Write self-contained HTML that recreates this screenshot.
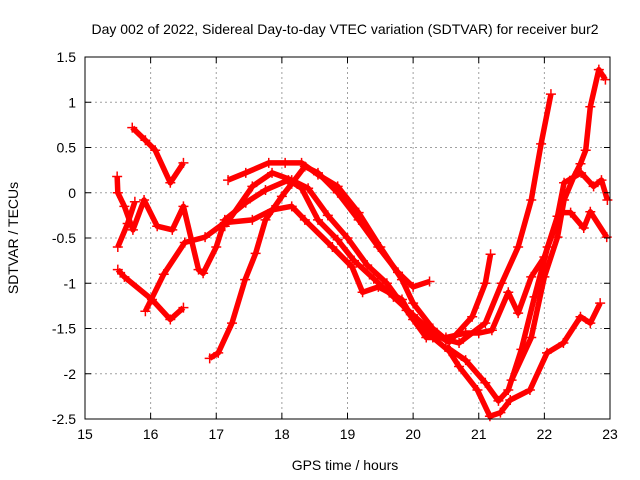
<!DOCTYPE html>
<html><head><meta charset="utf-8"><style>
body{margin:0;background:#fff;}
svg{display:block;font-family:"Liberation Sans",sans-serif;}
</style></head><body>
<svg id="chart" width="640" height="480">
<text x="345" y="34" font-size="14" text-anchor="middle">Day 002 of 2022, Sidereal Day-to-day VTEC variation (SDTVAR) for receiver bur2</text>
<text x="345" y="470" font-size="14" text-anchor="middle">GPS time / hours</text>
<text transform="translate(18,238) rotate(-90)" font-size="14" text-anchor="middle">SDTVAR / TECUs</text>
<g id="grid"></g><g id="series"></g><g id="axes"></g>
</svg>
<script>
const xTicks=[15,16,17,18,19,20,21,22,23];
const yTicks=[1.5,1,0.5,0,-0.5,-1,-1.5,-2,-2.5];
const yTickLabels=["1.5","1","0.5","0","-0.5","-1","-1.5","-2","-2.5"];
const trackA=[[15.49,0.18],[15.5,0],[15.6,-0.15],[15.73,-0.41],[15.9,-0.08],[16.1,-0.37],[16.33,-0.41],[16.5,-0.15],[16.73,-0.85],[16.8,-0.89],[17.0,-0.6],[17.13,-0.3],[17.45,-0.11],[17.75,0.03],[18.1,0.14],[18.3,0.05],[18.55,-0.3],[18.85,-0.52],[19.1,-0.75],[19.4,-0.95],[19.7,-1.15],[20.0,-1.35],[20.3,-1.55],[20.55,-1.65],[20.9,-1.37],[21.1,-1.0],[21.18,-0.68]];
const trackB=[[15.72,0.72],[15.92,0.58],[16.07,0.47],[16.3,0.11],[16.5,0.33]];
const trackC=[[15.5,-0.6],[15.65,-0.34],[15.76,-0.1]];
const trackD=[[15.5,-0.85],[15.6,-0.93],[16.02,-1.18],[16.3,-1.4],[16.5,-1.27]];
const trackE=[[15.92,-1.31],[16.2,-0.9],[16.52,-0.55],[16.83,-0.49],[17.13,-0.33],[17.55,-0.3],[17.85,-0.19],[18.15,-0.15],[18.35,-0.3],[18.77,-0.6],[19.07,-0.82],[19.23,-1.1],[19.47,-1.04],[19.83,-1.18],[20.0,-1.4],[20.3,-1.6],[20.55,-1.75],[20.7,-1.92],[20.98,-2.18],[21.17,-2.47],[21.33,-2.43],[21.48,-2.29],[21.78,-2.18],[22.04,-1.77],[22.29,-1.66],[22.55,-1.37],[22.7,-1.44],[22.85,-1.22]];
const trackF=[[16.9,-1.83],[17.03,-1.77],[17.24,-1.44],[17.44,-0.96],[17.6,-0.67],[17.75,-0.3],[18.0,-0.04],[18.15,0.1],[18.35,0.29],[18.55,0.22],[18.85,0],[19.17,-0.3],[19.47,-0.6],[19.77,-0.88],[20.0,-1.04],[20.25,-0.98]];
const trackG=[[17.18,0.14],[17.45,0.22],[17.8,0.33],[18.05,0.33],[18.3,0.33],[18.55,0.2],[18.85,0.07],[19.17,-0.22],[19.5,-0.6],[19.83,-0.96],[20.0,-1.22],[20.3,-1.5],[20.5,-1.62],[20.7,-1.66],[21.1,-1.44],[21.35,-1.0],[21.6,-0.6],[21.8,-0.08],[21.95,0.54],[22.1,1.09]];
const trackH=[[17.13,-0.37],[17.55,0.07],[17.85,0.22],[18.15,0.14],[18.4,0.05],[18.7,-0.25],[19.0,-0.5],[19.3,-0.8],[19.6,-1.0],[19.9,-1.3],[20.2,-1.6],[20.5,-1.6],[20.8,-1.55],[21.0,-1.55],[21.2,-1.52],[21.45,-1.1],[21.6,-1.33],[21.8,-0.93],[22.0,-0.71],[22.2,-0.26],[22.3,0.11],[22.56,0.22],[22.75,0.07],[22.87,0.14],[22.96,-0.08]];
const trackI=[[20.5,-1.7],[20.8,-1.85],[21.1,-2.1],[21.3,-2.3],[21.45,-2.18],[21.65,-1.73],[21.85,-1.15],[22.05,-0.6],[22.25,-0.22],[22.4,-0.22],[22.6,-0.39],[22.7,-0.21],[22.95,-0.49]];
const trackJ=[[21.5,-2.07],[21.8,-1.6],[22.0,-0.93],[22.2,-0.49],[22.3,-0.08],[22.45,0.18],[22.55,0.32],[22.63,0.47],[22.7,0.95],[22.83,1.36],[22.93,1.25]];
const tracks=[trackA,trackB,trackC,trackD,trackE,trackF,trackG,trackH,trackI,trackJ];
const X0=85,X1=610,Y0=57,Y1=419;
const sx=v=>X0+(v-15)/(23-15)*(X1-X0);
const sy=v=>Y1-(v+2.5)/(1.5+2.5)*(Y1-Y0);
const NS="http://www.w3.org/2000/svg";
function mk(t,a,p){const e=document.createElementNS(NS,t);for(const k in a)e.setAttribute(k,a[k]);p.appendChild(e);return e;}
const grid=document.getElementById('grid'),axes=document.getElementById('axes'),ser=document.getElementById('series');
xTicks.forEach((t,i)=>{const x=sx(t);
 if(i>0&&i<xTicks.length-1){const g=mk('line',{x1:x,x2:x,y1:Y0,y2:Y1,stroke:'#a0a0a0','stroke-dasharray':'2,3'},grid);
 
 }
 mk('line',{x1:x,x2:x,y1:Y1,y2:Y1-6,stroke:'#000'},axes);mk('line',{x1:x,x2:x,y1:Y0,y2:Y0+6,stroke:'#000'},axes);
 const l=mk('text',{x:x,y:Y1+20,'font-size':14,'text-anchor':'middle'},axes);l.textContent=t;
 
 });
yTicks.forEach((t,i)=>{const y=sy(t);
 if(i>0&&i<yTicks.length-1){const g=mk('line',{x1:X0,x2:X1,y1:y,y2:y,stroke:'#a0a0a0','stroke-dasharray':'2,3'},grid);
 
 }
 mk('line',{x1:X0,x2:X0+6,y1:y,y2:y,stroke:'#000'},axes);mk('line',{x1:X1,x2:X1-6,y1:y,y2:y,stroke:'#000'},axes);
 const l=mk('text',{x:X0-9,y:y+5,'font-size':14,'text-anchor':'end'},axes);l.textContent=yTickLabels[i];
 
 });
const fr=mk('rect',{x:X0,y:Y0,width:X1-X0,height:Y1-Y0,fill:'none',stroke:'#000'},axes);


tracks.forEach(tr=>{
 const g=mk('g',{},ser);
 
 
 mk('polyline',{points:tr.map(p=>sx(p[0])+','+sy(p[1])).join(' '),fill:'none',stroke:'#ff0000','stroke-width':5.5,'stroke-linejoin':'round'},g);
 tr.forEach(p=>{const x=sx(p[0]),y=sy(p[1]);
  const m=mk('path',{d:`M${x-5},${y}H${x+5}M${x},${y-5}V${y+5}`,stroke:'#ff0000','stroke-width':1.5},g);
  
  });
});
</script>
</body></html>
